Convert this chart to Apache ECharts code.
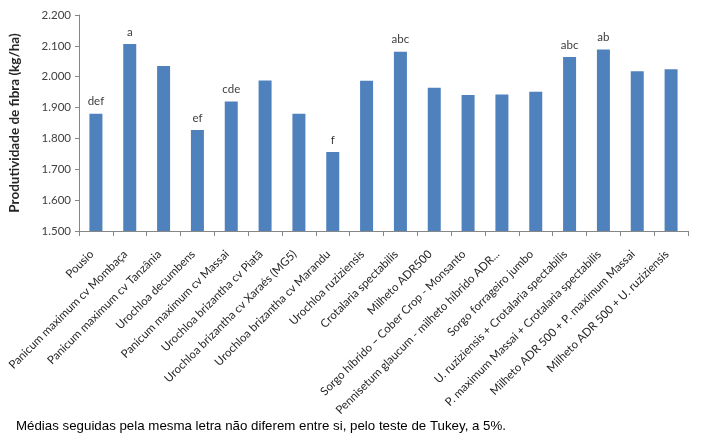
<!DOCTYPE html>
<html><head><meta charset="utf-8">
<script src="https://cdn.jsdelivr.net/npm/echarts@6/dist/echarts.min.js"></script>
<style>html,body{margin:0;padding:0;background:#fff}#c{width:702px;height:445px}</style>
</head><body><div id="c"></div>
<script>
const categories = ["Pousio","Panicum maximum cv Mombaça","Panicum maximum cv Tanzânia","Urochloa decumbens","Panicum maximum cv Massai","Urochloa brizantha cv Piatã","Urochloa brizantha cv Xaraés (MG5)","Urochloa brizantha cv Marandu","Urochloa ruziziensis","Crotalaria spectabilis","Milheto ADR500","Sorgo híbrido – Cober Crop - Monsanto","Pennisetum glaucum - milheto híbrido ADR...","Sorgo forrageiro jumbo","U. ruziziensis + Crotalaria spectabilis","P. maximum Massai + Crotalaria spectabilis","Milheto ADR 500 + P. maximum Massai","Milheto ADR 500 + U. ruziziensis"];
const values = [1880,2106,2035,1827,1920,1988,1880,1756,1987,2081,1964,1941,1942,1951,2064,2088,2018,2024];
const letters = ["def","a","","ef","cde","","","f","","abc","","","","","abc","ab","",""];
const yTicks = [1500,1600,1700,1800,1900,2000,2100,2200];
const yTitle = "Produtividade de fibra (kg/ha)";
const footnote = "Médias seguidas pela mesma letra não diferem entre si, pelo teste de Tukey, a 5%.";

const fmt = v => { const s = String(Math.round(v)); return s.slice(0, s.length-3) + "." + s.slice(-3); };
const font = "Lato, 'Open Sans', sans-serif";
const chart = echarts.init(document.getElementById('c'));
chart.setOption({
  animation: false,
  grid: {left: 76, right: 14, top: 15, bottom: 214},
  xAxis: {
    type: 'category', data: categories,
    axisLine: {lineStyle: {color: '#868686'}},
    axisTick: {show: true, length: 5, lineStyle: {color: '#868686'}},
    axisLabel: {rotate: 45, interval: 0, fontSize: 11.5, color: '#262626', fontFamily: font, margin: 17, padding: [0, 6, 0, 0]}
  },
  yAxis: {
    type: 'value', min: yTicks[0], max: yTicks[yTicks.length-1], interval: 100,
    name: yTitle, nameLocation: 'middle', nameGap: 57, nameRotate: 90,
    nameTextStyle: {fontSize: 13.5, fontWeight: 'bold', color: '#262626', fontFamily: font},
    axisLine: {show: true, lineStyle: {color: '#868686'}},
    axisTick: {show: true, length: 4, lineStyle: {color: '#868686'}},
    splitLine: {show: false},
    axisLabel: {formatter: fmt, fontSize: 11.5, color: '#404040', fontFamily: font, margin: 8}
  },
  series: [{
    type: 'bar', data: values, barWidth: 13,
    itemStyle: {color: '#4f81bd'},
    label: {show: true, position: 'top', distance: 6, fontSize: 11.5, color: '#404040', fontFamily: font,
      formatter: p => letters[p.dataIndex]}
  }],
  graphic: [{
    type: 'text', left: 16, top: 420,
    style: {text: footnote, fill: '#000', font: "13.3px 'Liberation Sans', Arial, sans-serif"}
  }]
});
</script></body></html>
